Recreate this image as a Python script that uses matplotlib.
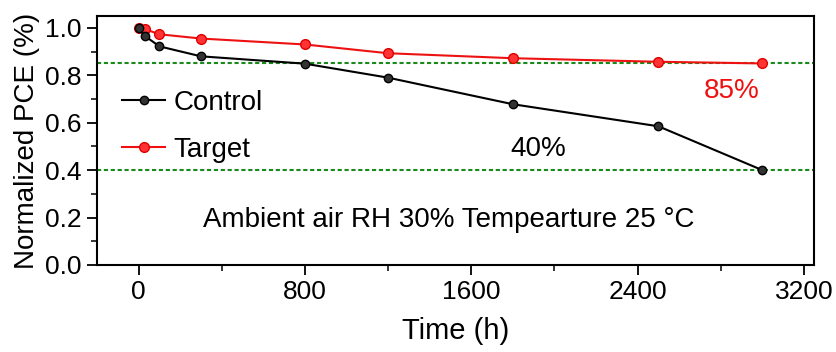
import matplotlib
matplotlib.use("Agg")
import matplotlib.pyplot as plt
from matplotlib.ticker import MultipleLocator

plt.rcParams['font.family'] = ['Liberation Sans', 'DejaVu Sans']

# Stability data: normalized PCE over storage time in ambient air
time_h = [0, 30, 100, 300, 800, 1200, 1800, 2500, 3000]
control_pce = [1.00, 0.966, 0.922, 0.88, 0.849, 0.79, 0.678, 0.585, 0.40]
target_pce = [1.00, 0.995, 0.973, 0.955, 0.93, 0.893, 0.872, 0.857, 0.85]
ref_levels = [0.85, 0.40]
x_ticks = [0, 800, 1600, 2400, 3200]
y_ticks = [0.0, 0.2, 0.4, 0.6, 0.8, 1.0]

fig = plt.figure(figsize=(8.37, 3.52), dpi=100)
ax = fig.add_axes([0.1159, 0.2472, 0.8570, 0.7073])

for lvl in ref_levels:
    ax.axhline(lvl, color='#1a8a1a', lw=1.5, linestyle=(0, (2, 1.3)), zorder=1)

ax.plot(time_h, control_pce, color='black', lw=1.5, marker='o', ms=6,
        mfc='#333333', mec='black', mew=1, label='Control', zorder=3)
ax.plot(time_h, target_pce, color='#ee1111', lw=1.5, marker='o', ms=7,
        mfc='#ff3333', mec='#e00000', mew=1, label='Target', zorder=2)

ax.set_xlim(-200, 3250)
ax.set_ylim(0, 1.05)
ax.set_xticks(x_ticks)
ax.set_yticks(y_ticks)
ax.set_yticklabels([f"{v:.1f}" for v in y_ticks])
ax.xaxis.set_minor_locator(MultipleLocator(400))
ax.yaxis.set_minor_locator(MultipleLocator(0.1))
ax.tick_params(axis='both', which='major', direction='out', length=7, width=1.3,
               labelsize=19, pad=4)
ax.tick_params(axis='both', which='minor', direction='out', length=4, width=1.1)
for sp in ax.spines.values():
    sp.set_linewidth(1.5)

ax.set_xlabel('Time (h)', fontsize=21, labelpad=9)
ax.set_ylabel('Normalized PCE (%)', fontsize=20, labelpad=4)

ax.text(2850, 0.735, '85%', color='#ee1111', fontsize=20, ha='center', va='center')
ax.text(1920, 0.49, '40%', color='black', fontsize=20, ha='center', va='center')
ax.text(1493, 0.19, 'Ambient air RH 30% Tempearture 25 \u00b0C', color='black',
        fontsize=20, ha='center', va='center')

ax.legend(loc='upper left', bbox_to_anchor=(0.0, 0.805), frameon=False, fontsize=20,
          handlelength=1.55, handletextpad=0.3, labelspacing=0.77, borderaxespad=0.5)

fig.savefig('out.png', dpi=100)
